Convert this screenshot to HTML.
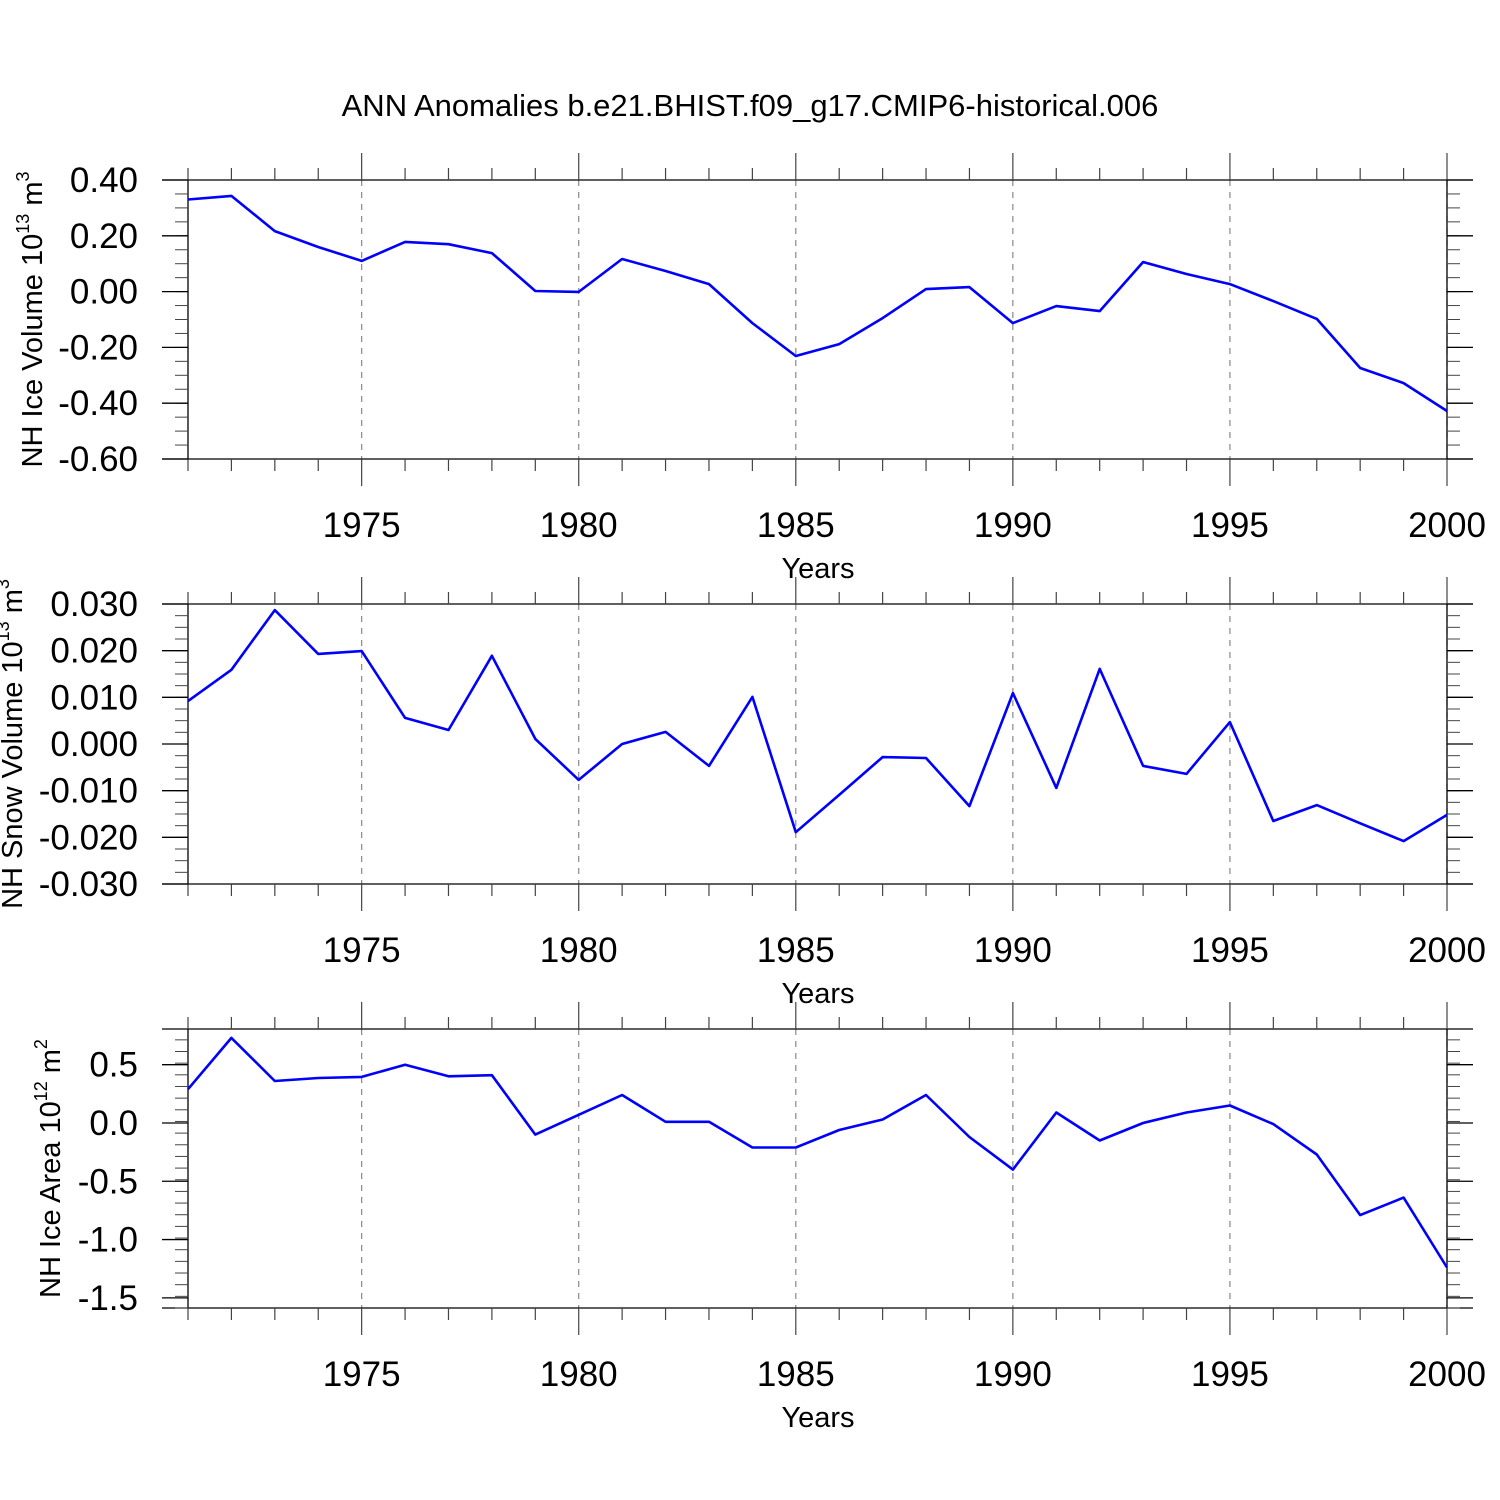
<!DOCTYPE html>
<html><head><meta charset="utf-8"><style>
html,body{margin:0;padding:0;background:#fff;}
svg{display:block;font-family:"Liberation Sans",Arial,sans-serif;}
</style></head><body>
<svg id="chart" width="1500" height="1500" viewBox="0 0 1500 1500">
<text x="750" y="116" font-size="31" text-anchor="middle">ANN Anomalies b.e21.BHIST.f09_g17.CMIP6-historical.006</text>
</svg>
<script>
const years = [1971,1972,1973,1974,1975,1976,1977,1978,1979,1980,1981,1982,1983,1984,1985,1986,1987,1988,1989,1990,1991,1992,1993,1994,1995,1996,1997,1998,1999,2000];
const xTickLabels = ["1975","1980","1985","1990","1995","2000"];
const iceVolume = [0.33,0.343,0.217,0.16,0.11,0.178,0.17,0.138,0.002,-0.001,0.117,0.074,0.027,-0.113,-0.231,-0.188,-0.095,0.009,0.016,-0.113,-0.052,-0.07,0.106,0.063,0.027,-0.034,-0.098,-0.274,-0.328,-0.428];
const snowVolume = [0.0092,0.0159,0.0287,0.0193,0.0199,0.0056,0.003,0.0189,0.0011,-0.0077,0.0,0.0026,-0.0047,0.0101,-0.0189,-0.0109,-0.0028,-0.003,-0.0133,0.0109,-0.0094,0.0161,-0.0047,-0.0064,0.0047,-0.0165,-0.0131,-0.017,-0.0208,-0.0152];
const iceArea = [0.29,0.73,0.36,0.386,0.395,0.50,0.40,0.41,-0.10,0.07,0.24,0.01,0.01,-0.21,-0.21,-0.06,0.03,0.24,-0.12,-0.40,0.09,-0.15,0.0,0.09,0.15,-0.01,-0.27,-0.79,-0.64,-1.24];
const iceVolumeTicks = ["0.40","0.20","0.00","-0.20","-0.40","-0.60"];
const snowVolumeTicks = ["0.030","0.020","0.010","0.000","-0.010","-0.020","-0.030"];
const iceAreaTicks = ["0.5","0.0","-0.5","-1.0","-1.5"];

const NS="http://www.w3.org/2000/svg";
const svg=document.getElementById('chart');
const X0=188,X1=1447,Y0=1971,Y1=2000;
function xScale(yr){return X0+(yr-Y0)/(Y1-Y0)*(X1-X0);}
function mk(tag,attrs,parent){const e=document.createElementNS(NS,tag);for(const k in attrs)e.setAttribute(k,attrs[k]);(parent||svg).appendChild(e);return e;}

function panel(name,top,bot,vmax,vmin,data,ticks,minorStep,labelParts){
  const g=mk('g',{});
  
  
  const yScale=v=>top+(vmax-v)/(vmax-vmin)*(bot-top);
  for(const t of xTickLabels){const x=xScale(+t);
    const l=mk('line',{x1:x,x2:x,y1:top,y2:bot,stroke:'#888','stroke-width':1.2,'stroke-dasharray':'6,6'},g);
    
    
  }
  mk('line',{x1:162,x2:1473,y1:top,y2:top,stroke:'#000','stroke-width':1.3},g);
  mk('line',{x1:162,x2:1473,y1:bot,y2:bot,stroke:'#000','stroke-width':1.3},g);
  mk('line',{x1:X0,x2:X0,y1:top,y2:bot,stroke:'#000','stroke-width':1.3},g);
  mk('line',{x1:X1,x2:X1,y1:top,y2:bot,stroke:'#000','stroke-width':1.3},g);
  for(const yr of years){const x=xScale(yr);const major=yr%5===0;const len=major?27:12;
    mk('line',{x1:x,x2:x,y1:top-len,y2:top,stroke:'#444','stroke-width':1.2},g);
    mk('line',{x1:x,x2:x,y1:bot,y2:bot+len,stroke:'#444','stroke-width':1.2},g);
  }
  for(const t of xTickLabels){
    const tx=mk('text',{x:xScale(+t),y:bot+78,'font-size':35,'text-anchor':'middle'},g);
    tx.textContent=t;
    
    
  }
  const xt=mk('text',{x:818,y:bot+119,'font-size':29,'text-anchor':'middle'},g);
  xt.textContent='Years';
  
  
  const nMin=Math.round((vmax-vmin)/minorStep);
  for(let i=0;i<=nMin;i++){const v=vmin+i*minorStep;const y=yScale(v);if(y<top-0.5||y>bot+0.5)continue;
    mk('line',{x1:175,x2:X0,y1:y,y2:y,stroke:'#444','stroke-width':1},g);
    mk('line',{x1:X1,x2:1460,y1:y,y2:y,stroke:'#444','stroke-width':1},g);
  }
  for(const t of ticks){const y=yScale(parseFloat(t));
    mk('line',{x1:162,x2:X0,y1:y,y2:y,stroke:'#000','stroke-width':1.3},g);
    mk('line',{x1:X1,x2:1473,y1:y,y2:y,stroke:'#000','stroke-width':1.3},g);
    const tx=mk('text',{x:138,y:y+12,'font-size':35,'text-anchor':'end'},g);
    tx.textContent=t;
    
    
  }
  const cy=(top+bot)/2;
  const yt=mk('text',{x:0,y:0,'font-size':29,'text-anchor':'middle',transform:`translate(${labelParts.x},${cy}) rotate(-90)`},g);
  
  
  const s1=mk('tspan',{},yt);s1.textContent=labelParts.a;
  const s2=mk('tspan',{'font-size':18,dy:-13},yt);s2.textContent=labelParts.e;
  const s3=mk('tspan',{dy:13},yt);s3.textContent=' m';
  const s4=mk('tspan',{'font-size':18,dy:-13},yt);s4.textContent=labelParts.p;
  const pts=years.map((yr,i)=>xScale(yr).toFixed(1)+','+yScale(data[i]).toFixed(1)).join(' ');
  const pl=mk('polyline',{points:pts,fill:'none',stroke:'#0000ff','stroke-width':2.6,'stroke-linejoin':'round'},g);
  
  
}
panel('nh-ice-volume',180,459,0.40,-0.60,iceVolume,iceVolumeTicks,0.05,{x:42,a:'NH Ice Volume 10',e:'13',p:'3'});
panel('nh-snow-volume',604,884,0.030,-0.030,snowVolume,snowVolumeTicks,0.0025,{x:22,a:'NH Snow Volume 10',e:'13',p:'3'});
panel('nh-ice-area',1029,1308,0.806,-1.587,iceArea,iceAreaTicks,0.1,{x:60,a:'NH Ice Area 10',e:'12',p:'2'});
</script>
</body></html>
